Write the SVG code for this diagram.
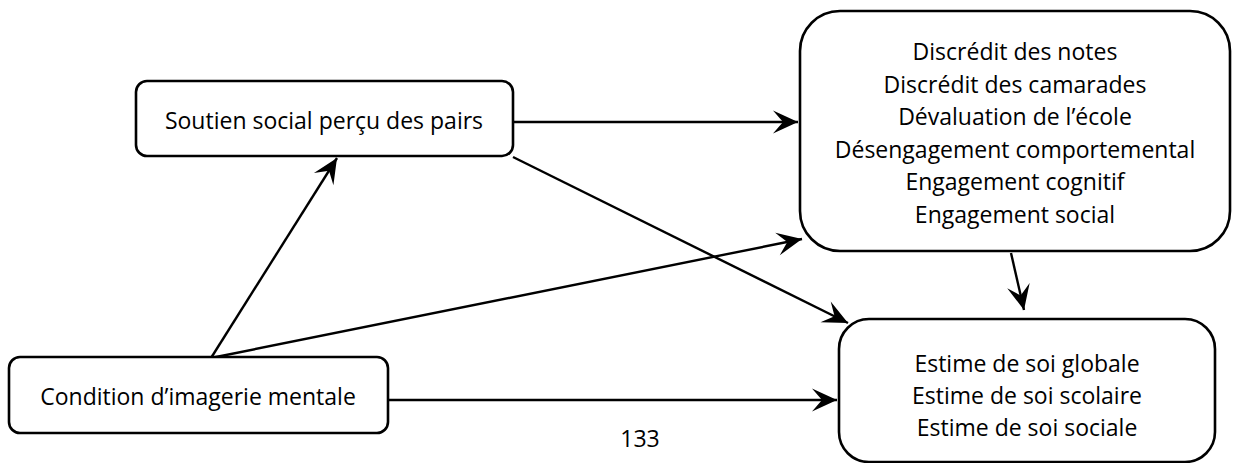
<svg xmlns="http://www.w3.org/2000/svg" width="1234" height="463" viewBox="0 0 1234 463">
<style>
.box{fill:#fff;stroke:#000;stroke-width:2.6}
.t{font-family:"Open Sans","Liberation Sans",sans-serif;font-size:23px;fill:#000;text-anchor:middle}
.c{stroke:#000;stroke-width:2.4;fill:none;marker-end:url(#ah)}
</style>
<defs>
<marker id="ah" markerUnits="userSpaceOnUse" viewBox="-26 -13 28 26" refX="0" refY="0" markerWidth="28" markerHeight="26" orient="auto">
<path d="M0,0 L-25,-11.5 L-15,0 L-25,11.5 Z" fill="#000"/>
</marker>
</defs>
<rect width="1234" height="463" fill="#fff"/>
<g id="connectors">
<line class="c" x1="513" y1="122" x2="798" y2="122"/>
<line class="c" x1="513" y1="157" x2="848" y2="323"/>
<line class="c" x1="211" y1="358" x2="337" y2="158"/>
<line class="c" x1="211" y1="358" x2="802" y2="239"/>
<line class="c" x1="388" y1="400" x2="837" y2="400"/>
<line class="c" x1="1011" y1="253" x2="1024" y2="310"/>
</g>
<g id="soutien">
<rect class="box" x="136" y="81" width="377" height="75" rx="11"/>
<text class="t" x="324" y="129">Soutien social perçu des pairs</text>
</g>
<g id="mediateurs">
<rect class="box" x="800" y="11" width="430" height="240" rx="40"/>
<text class="t" x="1015" y="60">Discrédit des notes</text>
<text class="t" x="1015" y="92.5">Discrédit des camarades</text>
<text class="t" x="1015" y="125">Dévaluation de l’école</text>
<text class="t" x="1015" y="157.5">Désengagement comportemental</text>
<text class="t" x="1015" y="190">Engagement cognitif</text>
<text class="t" x="1015" y="222.5">Engagement social</text>
</g>
<g id="condition">
<rect class="box" x="9" y="357" width="379" height="76" rx="11"/>
<text class="t" x="198" y="405">Condition d’imagerie mentale</text>
</g>
<g id="estime">
<rect class="box" x="839" y="319" width="376" height="143" rx="30"/>
<text class="t" x="1027" y="372">Estime de soi globale</text>
<text class="t" x="1027" y="404">Estime de soi scolaire</text>
<text class="t" x="1027" y="436">Estime de soi sociale</text>
</g>
<text class="t" x="640" y="447">133</text>
</svg>
